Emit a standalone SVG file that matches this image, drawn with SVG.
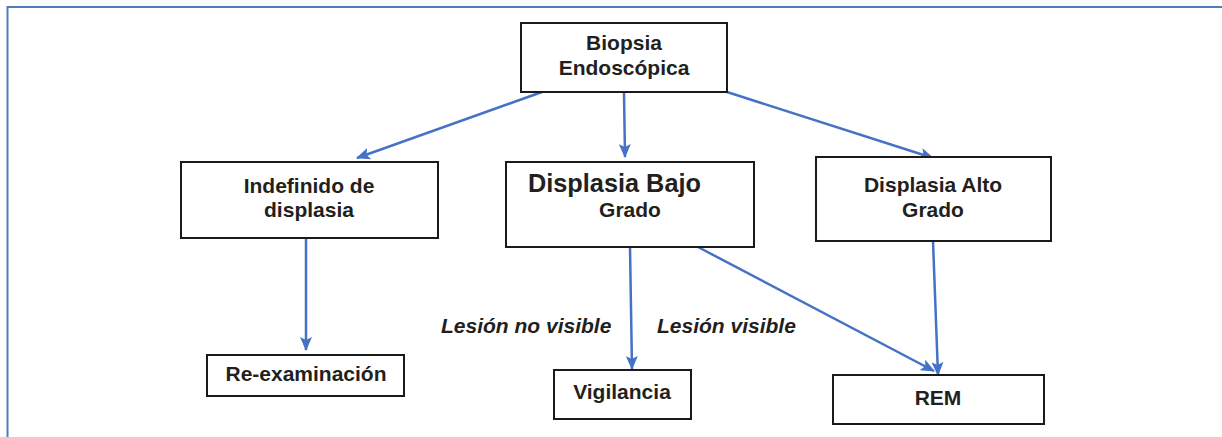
<svg xmlns="http://www.w3.org/2000/svg" width="1222" height="437" viewBox="0 0 1222 437">
<style>
.box{fill:#fff;stroke:#1a1a1a;stroke-width:2}
.t{font-family:"Liberation Sans",Arial,sans-serif;font-weight:bold;font-size:21px;fill:#231f20;text-anchor:middle}
.lbl{font-family:"Liberation Sans",Arial,sans-serif;font-weight:bold;font-style:italic;font-size:21px;fill:#231f20}
.c{stroke:#4472C4;stroke-width:2.5;fill:none;marker-end:url(#ah)}
.frame{stroke:#4F7DBA;stroke-width:2;fill:none}
</style>
<defs>
<marker id="ah" markerUnits="userSpaceOnUse" markerWidth="14" markerHeight="12" viewBox="0 0 14 12" refX="13" refY="6" orient="auto">
<path d="M0,0 L14,6 L0,12 L3,6 Z" fill="#4472C4"/>
</marker>
</defs>
<rect width="1222" height="437" fill="#fff"/>
<path class="frame" d="M1222,7 L7.5,7 L7.5,437"/>
<g id="connectors">
<line class="c" x1="542" y1="92" x2="357" y2="158"/>
<line class="c" x1="624" y1="92" x2="625" y2="157"/>
<line class="c" x1="727" y1="92" x2="933" y2="158"/>
<line class="c" x1="306" y1="238" x2="306" y2="350"/>
<line class="c" x1="630" y1="247" x2="632" y2="369"/>
<line class="c" x1="698" y1="247" x2="934" y2="371"/>
<line class="c" x1="933" y1="241" x2="938" y2="375"/>
</g>
<g id="biopsia">
<rect class="box" x="521" y="23" width="206" height="69"/>
<text class="t" x="624" y="50">Biopsia</text>
<text class="t" x="624" y="75">Endoscópica</text>
</g>
<g id="indefinido">
<rect class="box" x="181" y="162" width="257" height="76"/>
<text class="t" x="309" y="193">Indefinido de</text>
<text class="t" x="309" y="217">displasia</text>
</g>
<g id="bajo">
<rect class="box" x="506" y="162" width="248" height="85"/>
<text class="t" x="528" y="192" style="text-anchor:start;font-size:25.3px">Displasia Bajo</text>
<text class="t" x="630" y="217">Grado</text>
</g>
<g id="alto">
<rect class="box" x="816" y="157" width="235" height="84"/>
<text class="t" x="933" y="192">Displasia Alto</text>
<text class="t" x="933" y="217">Grado</text>
</g>
<g id="reexam">
<rect class="box" x="207" y="355" width="197" height="41"/>
<text class="t" x="306" y="381">Re-examinación</text>
</g>
<g id="vigilancia">
<rect class="box" x="554" y="370" width="137" height="49"/>
<text class="t" x="622" y="399">Vigilancia</text>
</g>
<g id="rem">
<rect class="box" x="833" y="375" width="211" height="49"/>
<text class="t" x="938" y="405">REM</text>
</g>
<g id="labels">
<text class="lbl" x="441" y="333">Lesión no visible</text>
<text class="lbl" x="657" y="333">Lesión visible</text>
</g>
</svg>
